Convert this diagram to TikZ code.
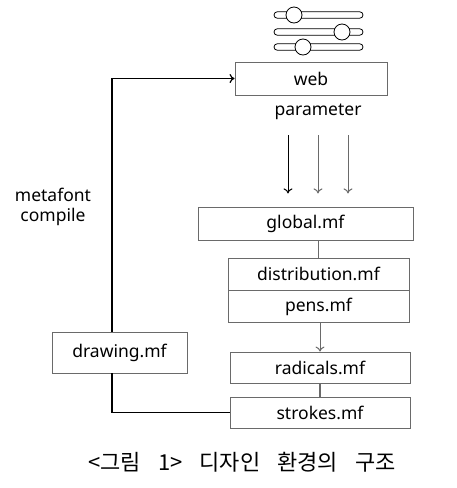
\documentclass[tikz,border=0pt]{standalone}
\usepackage{fontspec}
\setmainfont{Noto Sans}
\newfontfamily\krfont{Noto Sans CJK KR}
\usetikzlibrary{positioning,calc,arrows.meta}

\definecolor{boxgray}{HTML}{6A6A6A}
\newcommand{\capfont}{\krfont\fontsize{22}{26}\selectfont\spaceskip=17pt\relax}
\tikzset{
    filebox/.style={draw=boxgray, line width=0.9pt, rectangle, minimum height=32pt, font=\fontsize{17.5}{20}\selectfont, inner sep=0pt},
    link/.style={draw=boxgray, line width=1.2pt},
    flow/.style={line width=1pt, -{To[length=5pt,width=9pt]}}
}

\begin{document}
\begin{tikzpicture}[x=1pt, y=-1pt]
        \useasboundingbox (0,0) rectangle (456,488);

        % Sliders
        \foreach \ty/\cx in {15/294, 32/342, 47/303} {
            \draw[line width=0.8pt, rounded corners=3.2pt] (274,\ty-3.2) rectangle (363,\ty+3.2);
            \draw[line width=0.8pt, fill=white] (\cx,\ty) circle (8);
        }

        % Nodes
        \node (web) [filebox, minimum width=152pt, minimum height=33pt] at (311,78.5) {web};
        \node (param) [font=\fontsize{17.5}{20}\selectfont] at (318,112) {parameter};
        \node (global) [filebox, minimum width=215pt, minimum height=33pt] at (305.5,223.5) {global.mf};
        \node (dist) [filebox, minimum width=181pt] at (318.5,274) {distribution.mf};
        \node (pens) [filebox, minimum width=181pt, below=0pt of dist] {pens.mf};
        \node (radicals) [filebox, minimum width=180pt, minimum height=31pt] at (320,367.5) {radicals.mf};
        \node (strokes) [filebox, minimum width=180pt, minimum height=31pt] at (320,412.5) {strokes.mf};
        \node (drawing) [filebox, minimum width=135pt, minimum height=41pt] at (119.5,352.5) {drawing.mf};
        \node (compile) [align=center, font=\fontsize{17.5}{20}\selectfont] at (53,207) {metafont\\compile};
        \node (caption) [font=\capfont] at (242,462) {<그림 1> 디자인 환경의 구조};

        \coordinate (top) at (112,78.5);
        \coordinate (bend) at (112,412.5);

        % Arrows
        \foreach \dx/\col in {-30/black, 0/boxgray, 30/boxgray}
            \draw[flow, \col] ($(param.south)+(\dx,12)$) -- ++(0,58);
        \draw[link] (global.south -| dist.north) -- (dist.north);
        \draw[flow, boxgray] (pens.south -| radicals.north) -- (radicals.north);
        \draw[link] (radicals.south) -- (strokes.north);
        \draw[line width=1.2pt] (strokes.west) -- (bend) -- (bend |- drawing.south);
        \draw[line width=1.2pt, -{To[length=5pt,width=9pt]}] (top |- drawing.north) -- (top) -- (web.west);
\end{tikzpicture}
\end{document}
